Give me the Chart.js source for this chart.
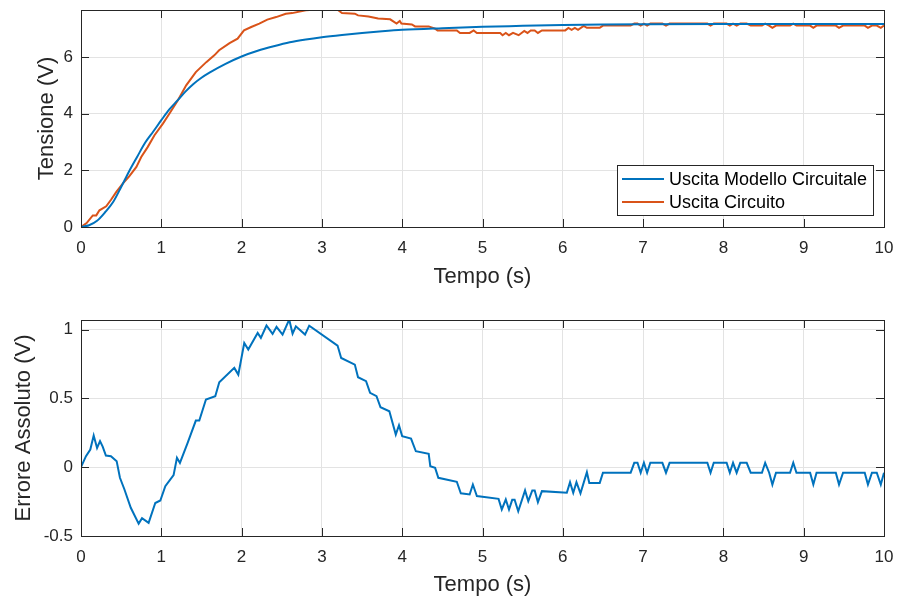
<!DOCTYPE html>
<html>
<head>
<meta charset="utf-8">
<script src="https://cdn.jsdelivr.net/npm/chart.js@4.4.1/dist/chart.umd.min.js"></script>
<style>
  html, body { margin: 0; padding: 0; background: #fff; }
  #wrap { position: relative; width: 898px; height: 602px; }
  canvas { position: absolute; left: 0; }
</style>
</head>
<body>
<div id="wrap">
  <canvas id="top" width="898" height="300" style="top:0"></canvas>
  <canvas id="bottom" width="898" height="302" style="top:300px"></canvas>
</div>
<script>
// Uscita del modello (curva liscia)
const modelT = [0, 0.1, 0.2, 0.3, 0.4, 0.5, 0.6, 0.7, 0.8, 0.9, 1.0, 1.1, 1.2, 1.3, 1.4, 1.5, 1.6, 1.8, 2.0, 2.2, 2.4, 2.6, 2.8, 3.0, 3.25, 3.5, 3.75, 4.0, 4.5, 5, 5.5, 6, 6.5, 7, 8, 9, 10];
const modelV = [0, 0.06, 0.22, 0.52, 0.88, 1.41, 1.97, 2.48, 2.98, 3.37, 3.77, 4.15, 4.46, 4.78, 5.05, 5.27, 5.45, 5.76, 6.02, 6.22, 6.38, 6.52, 6.62, 6.70, 6.78, 6.85, 6.91, 6.96, 7.02, 7.07, 7.10, 7.13, 7.15, 7.16, 7.17, 7.17, 7.17];

// Uscita misurata sul circuito
const circT = [0, 0.07, 0.147, 0.19, 0.23, 0.314, 0.376, 0.44, 0.52, 0.60, 0.69, 0.75, 0.83, 0.915, 1.02, 1.10, 1.205, 1.31, 1.43, 1.56, 1.66, 1.72, 1.85, 1.95, 2.03, 2.12, 2.22, 2.32, 2.43, 2.55, 2.63, 2.8, 2.85, 3.20, 3.25, 3.41, 3.45, 3.58, 3.70, 3.85, 3.93, 3.97, 3.99, 4.12, 4.16, 4.33, 4.41, 4.44, 4.68, 4.72, 4.84, 4.89, 4.93, 5.22, 5.25, 5.29, 5.33, 5.38, 5.45, 5.52, 5.56, 5.60, 5.65, 5.69, 5.74, 6.03, 6.07, 6.11, 6.15, 6.19, 6.26, 6.30, 6.46, 6.5, 6.845, 6.89, 6.93, 6.97, 7.01, 7.05, 7.09, 7.24, 7.285, 7.33, 7.80, 7.84, 7.88, 8.04, 8.08, 8.12, 8.165, 8.21, 8.29, 8.34, 8.48, 8.52, 8.57, 8.61, 8.655, 8.83, 8.87, 8.91, 9.08, 9.12, 9.16, 9.40, 9.44, 9.49, 9.76, 9.80, 9.85, 9.91, 9.96, 10];
const circV = [0, 0.14, 0.41, 0.41, 0.59, 0.73, 0.97, 1.24, 1.53, 1.79, 2.12, 2.47, 2.82, 3.24, 3.65, 4.0, 4.47, 5.0, 5.47, 5.82, 6.06, 6.24, 6.49, 6.65, 6.94, 7.06, 7.18, 7.32, 7.41, 7.53, 7.55, 7.65, 7.66, 7.66, 7.55, 7.53, 7.47, 7.43, 7.36, 7.33, 7.18, 7.27, 7.18, 7.15, 7.08, 7.08, 7.0, 6.94, 6.94, 6.85, 6.85, 6.94, 6.85, 6.85, 6.77, 6.85, 6.77, 6.85, 6.77, 6.92, 6.85, 6.94, 6.94, 6.85, 6.94, 6.94, 7.03, 6.96, 7.03, 6.96, 7.10, 7.03, 7.03, 7.11, 7.11, 7.18, 7.18, 7.11, 7.18, 7.11, 7.18, 7.18, 7.11, 7.18, 7.18, 7.11, 7.18, 7.18, 7.11, 7.18, 7.11, 7.18, 7.18, 7.11, 7.11, 7.18, 7.11, 7.03, 7.11, 7.11, 7.18, 7.11, 7.11, 7.03, 7.11, 7.11, 7.03, 7.11, 7.11, 7.03, 7.11, 7.11, 7.03, 7.11];

// Errore assoluto
const errT = [0, 0.062, 0.116, 0.158, 0.2, 0.237, 0.27, 0.31, 0.373, 0.444, 0.485, 0.54, 0.62, 0.718, 0.76, 0.842, 0.925, 0.988, 1.05, 1.153, 1.195, 1.232, 1.328, 1.43, 1.473, 1.556, 1.672, 1.722, 1.909, 1.959, 2.033, 2.083, 2.2, 2.24, 2.31, 2.386, 2.435, 2.51, 2.593, 2.635, 2.676, 2.79, 2.842, 3.195, 3.24, 3.41, 3.45, 3.55, 3.60, 3.68, 3.73, 3.84, 3.92, 3.96, 4.0, 4.11, 4.17, 4.33, 4.35, 4.41, 4.45, 4.68, 4.73, 4.84, 4.88, 4.93, 5.2, 5.24, 5.29, 5.33, 5.37, 5.40, 5.445, 5.53, 5.57, 5.62, 5.65, 5.69, 5.74, 6.05, 6.09, 6.13, 6.17, 6.22, 6.30, 6.33, 6.46, 6.5, 6.845, 6.89, 6.93, 6.97, 7.01, 7.05, 7.09, 7.24, 7.285, 7.33, 7.80, 7.84, 7.88, 8.04, 8.08, 8.12, 8.165, 8.21, 8.29, 8.34, 8.48, 8.52, 8.57, 8.61, 8.655, 8.83, 8.87, 8.91, 9.08, 9.12, 9.16, 9.40, 9.44, 9.49, 9.76, 9.80, 9.85, 9.91, 9.96, 10];
const errV = [0, 0.08, 0.128, 0.23, 0.14, 0.19, 0.15, 0.085, 0.08, 0.044, -0.077, -0.16, -0.295, -0.41, -0.37, -0.404, -0.26, -0.242, -0.138, -0.058, 0.068, 0.031, 0.177, 0.339, 0.339, 0.492, 0.516, 0.617, 0.722, 0.673, 0.903, 0.855, 0.976, 0.94, 1.03, 0.969, 1.02, 0.964, 1.073, 0.971, 1.024, 0.964, 1.029, 0.884, 0.794, 0.746, 0.654, 0.625, 0.54, 0.516, 0.436, 0.407, 0.237, 0.305, 0.225, 0.208, 0.116, 0.097, 0.007, -0.005, -0.077, -0.106, -0.19, -0.198, -0.126, -0.21, -0.23, -0.307, -0.235, -0.307, -0.237, -0.237, -0.32, -0.169, -0.247, -0.169, -0.169, -0.254, -0.174, -0.186, -0.109, -0.186, -0.109, -0.19, -0.036, -0.114, -0.114, -0.04, -0.04, 0.032, 0.032, -0.04, 0.032, -0.04, 0.032, 0.032, -0.04, 0.032, 0.032, -0.04, 0.032, 0.032, -0.04, 0.032, -0.04, 0.032, 0.032, -0.04, -0.04, 0.032, -0.04, -0.126, -0.04, -0.04, 0.032, -0.04, -0.04, -0.126, -0.04, -0.04, -0.126, -0.04, -0.04, -0.126, -0.04, -0.04, -0.126, -0.04];

const xTicks = [0, 1, 2, 3, 4, 5, 6, 7, 8, 9, 10];

const BLUE = '#0072BD';
const ORANGE = '#D95319';
const AXIS = '#262626';
const FONT = '"Liberation Sans", Arial, Helvetica, sans-serif';

const pts = (t, v) => t.map((x, i) => ({ x, y: v[i] }));

// Bordo a scatola e tacche verso l'interno (stile MATLAB)
const boxPlugin = {
  id: 'box',
  afterDatasetsDraw(chart) {
    const { ctx, chartArea: a, scales } = chart;
    ctx.save();
    ctx.strokeStyle = AXIS;
    ctx.lineWidth = 1;
    ctx.beginPath();
    scales.x.ticks.forEach(t => {
      const px = Math.round(scales.x.getPixelForValue(t.value)) + 0.5;
      ctx.moveTo(px, a.bottom); ctx.lineTo(px, a.bottom - 8);
      ctx.moveTo(px, a.top); ctx.lineTo(px, a.top + 8);
    });
    scales.y.ticks.forEach(t => {
      const py = Math.round(scales.y.getPixelForValue(t.value)) + 0.5;
      ctx.moveTo(a.left, py); ctx.lineTo(a.left + 8, py);
      ctx.moveTo(a.right, py); ctx.lineTo(a.right - 8, py);
    });
    ctx.stroke();
    ctx.strokeRect(Math.round(a.left) + 0.5, Math.round(a.top) + 0.5,
      Math.round(a.right - a.left), Math.round(a.bottom - a.top));
    ctx.restore();
  }
};

// Legenda dentro l'area del grafico, in basso a destra
const legendBox = {
  id: 'legendBox',
  afterDraw(chart) {
    const { ctx, chartArea: a } = chart;
    const sets = chart.data.datasets;
    ctx.save();
    ctx.font = '18px ' + FONT;
    const textW = Math.max(...sets.map(d => ctx.measureText(d.label).width));
    const w = Math.round(52 + textW + 6);
    const h = 50;
    const x = Math.round(a.right - 11 - w);
    const y = Math.round(a.bottom - 12 - h);
    ctx.fillStyle = '#fff';
    ctx.fillRect(x, y, w, h);
    ctx.strokeStyle = AXIS;
    ctx.lineWidth = 1;
    ctx.strokeRect(x + 0.5, y + 0.5, w, h);
    sets.forEach((d, i) => {
      const cy = y + 14 + i * 23;
      ctx.strokeStyle = d.borderColor;
      ctx.lineWidth = 2;
      ctx.beginPath();
      ctx.moveTo(x + 5, cy);
      ctx.lineTo(x + 47, cy);
      ctx.stroke();
      ctx.fillStyle = '#000';
      ctx.textBaseline = 'middle';
      ctx.textAlign = 'left';
      ctx.fillText(d.label, x + 52, cy + 1);
    });
    ctx.restore();
  }
};

function axes(yMin, yMax, yStep, yTitle, yTitlePad, xHeight, xTitlePad) {
  return {
    x: {
      type: 'linear', min: 0, max: 10,
      afterBuildTicks: s => { s.ticks = xTicks.map(v => ({ value: v })); },
      afterFit: s => { s.height = xHeight; s.paddingLeft = 0; s.paddingRight = 0; },
      ticks: { padding: 11, color: AXIS, font: { family: FONT, size: 17 } },
      grid: { color: '#e3e3e3', drawTicks: false },
      border: { color: AXIS },
      title: { display: true, text: 'Tempo (s)', color: AXIS,
        font: { family: FONT, size: 22 }, padding: { top: 0, bottom: xTitlePad } }
    },
    y: {
      min: yMin, max: yMax,
      afterFit: s => { s.width = 81; s.paddingTop = 0; s.paddingBottom = 0; },
      ticks: { stepSize: yStep, includeBounds: false, padding: 8, color: AXIS,
        font: { family: FONT, size: 17 },
        callback: v => String(+v.toFixed(2)) },
      grid: { color: '#e3e3e3', drawTicks: false },
      border: { color: AXIS },
      title: { display: true, text: yTitle, color: AXIS,
        font: { family: FONT, size: 22 }, padding: { top: yTitlePad, bottom: 0 } }
    }
  };
}

const common = {
  responsive: false,
  animation: false,
  devicePixelRatio: 1,
  parsing: false,
  elements: { point: { radius: 0 }, line: { tension: 0, borderWidth: 2 } },
  plugins: { legend: { display: false }, tooltip: { enabled: false } }
};

new Chart(document.getElementById('top'), {
  type: 'line',
  data: {
    datasets: [
      { label: 'Uscita Modello Circuitale', data: pts(modelT, modelV),
        borderColor: BLUE, cubicInterpolationMode: 'monotone', fill: false },
      { label: 'Uscita Circuito', data: pts(circT, circV),
        borderColor: ORANGE, fill: false }
    ]
  },
  options: {
    ...common,
    layout: { padding: { top: 10, right: 14, left: 0, bottom: 0 } },
    scales: axes(0, 7.66, 2, 'Tensione (V)', 34, 73, 10)
  },
  plugins: [boxPlugin, legendBox]
});

new Chart(document.getElementById('bottom'), {
  type: 'line',
  data: {
    datasets: [
      { label: 'Errore', data: pts(errT, errV), borderColor: BLUE, fill: false }
    ]
  },
  options: {
    ...common,
    layout: { padding: { top: 20, right: 14, left: 0, bottom: 0 } },
    scales: axes(-0.5, 1.07, 0.5, 'Errore Assoluto (V)', 11, 66, 4)
  },
  plugins: [boxPlugin]
});
</script>
</body>
</html>
